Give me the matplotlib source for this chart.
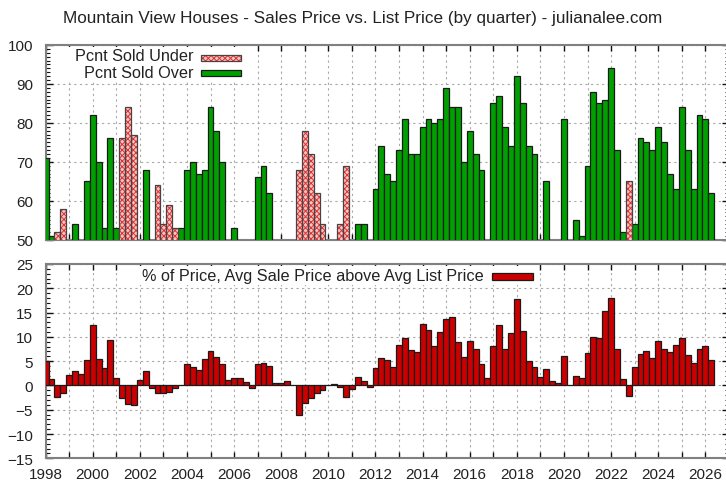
import numpy as np
import matplotlib
matplotlib.use("Agg")
import matplotlib.pyplot as plt
from matplotlib.ticker import MultipleLocator, FuncFormatter
from matplotlib.patches import Rectangle

plt.rcParams['font.family'] = ['Liberation Sans', 'DejaVu Sans']
plt.rcParams['hatch.linewidth'] = 0.7

nan = np.nan
start_year = 1998
# Pcnt sold over list (only values above 50 are visible in the chart)
pct_over = [71, 51, nan, nan, nan, 54, nan, 65,
            82, 70, 53, 76, 53, nan, nan, nan,
            nan, 68, nan, nan, nan, nan, nan, 53,
            68, 70, 67, 68, 84, 78, 70, nan,
            53, nan, nan, nan, 66, 69, 62, nan,
            nan, nan, nan, nan, nan, nan, nan, nan,
            nan, nan, nan, nan, nan, 54, 54, nan,
            63, 74, 67, 65, 73, 81, 72, 72,
            79, 81, 80, 81, 89, 84, 84, 70,
            78, 72, 68, nan, 85, 87, 79, 74,
            92, 85, 74, 72, nan, 65, nan, nan,
            81, nan, 55, 51, 69, 88, 85, 86,
            94, 73, 52, nan, 54, 76, 75, 73,
            79, 75, 67, 63, 84, 73, 63, 82,
            81, 62]
# Pcnt sold under list (only values above 50 are visible in the chart)
pct_under = [nan, nan, 52, 58, nan, nan, nan, nan,
             nan, nan, nan, nan, nan, 76, 84, 77,
             nan, nan, nan, 64, 54, 59, 53, nan,
             nan, nan, nan, nan, nan, nan, nan, nan,
             nan, nan, nan, nan, nan, nan, nan, nan,
             nan, nan, nan, 68, 78, 72, 62, 54,
             nan, nan, 54, 69, nan, nan, nan, nan,
             nan, nan, nan, nan, nan, nan, nan, nan,
             nan, nan, nan, nan, nan, nan, nan, nan,
             nan, nan, nan, nan, nan, nan, nan, nan,
             nan, nan, nan, nan, nan, nan, nan, nan,
             nan, nan, nan, nan, nan, nan, nan, nan,
             nan, nan, nan, 65, nan, nan, nan, nan,
             nan, nan, nan, nan, nan, nan, nan, nan,
             nan, nan]
# % of price, avg sale price above avg list price
pct_above = [5.0, 1.4, -2.3, -1.5, 2.2, 2.9, 2.3, 5.2,
             12.4, 5.4, 3.5, 9.3, 1.6, -2.6, -3.8, -4.0,
             1.2, 3.0, -0.6, -1.5, -1.5, -1.3, -0.5, 0.0,
             4.5, 3.7, 3.1, 5.4, 7.0, 5.8, 4.5, 1.2,
             1.6, 1.6, 0.8, -0.5, 4.4, 4.6, 3.9, 0.6,
             0.6, 1.0, 0.0, -6.0, -3.7, -2.5, -1.5, -0.9,
             0.0, 0.2, -0.3, -2.3, -0.8, 1.7, 1.0, -0.4,
             3.5, 5.6, 5.2, 3.8, 8.3, 9.8, 7.2, 6.8,
             12.6, 11.5, 8.2, 10.9, 13.7, 14.1, 8.9, 5.8,
             9.2, 7.5, 4.4, 1.6, 8.1, 12.5, 7.5, 10.8,
             17.7, 11.2, 5.0, 3.8, 1.7, 3.3, 1.0, 0.4,
             6.0, 0.0, 1.9, 1.5, 6.7, 10.0, 9.8, 15.3,
             18.1, 7.5, 1.3, -2.1, 3.8, 6.4, 7.0, 5.7,
             9.2, 7.5, 6.9, 8.3, 9.8, 6.3, 4.6, 7.6,
             8.1, 5.2]

title = "Mountain View Houses - Sales Price vs. List Price (by quarter) - julianalee.com"
label_under = "Pcnt Sold Under"
label_over = "Pcnt Sold Over"
label_above = "% of Price, Avg Sale Price above Avg List Price"

quarters = start_year + np.arange(len(pct_above)) * 0.25

W, H = 726, 481
fig = plt.figure(figsize=(W / 100, H / 100), dpi=100)

def fx(px):
    return px / W

def fy(py):
    return 1 - py / H

x_left, x_right = 45.6, 728.9
ax1 = fig.add_axes([fx(x_left), fy(240.7), fx(x_right - x_left), (240.7 - 46) / H])
ax2 = fig.add_axes([fx(x_left), fy(459.3), fx(x_right - x_left), (459.3 - 265) / H])

GREEN = '#00a000'
RED = '#cc0000'
EDGE = '#1a1a1a'
TXT = '#222222'
HATCH_RED = '#e03030'
PINK = '#f7c4c4'

bw = 0.25
ax1.bar(quarters, pct_over, width=bw, color=GREEN, edgecolor=EDGE, linewidth=0.9, zorder=3)
ax1.bar(quarters, pct_under, width=bw, color=PINK, edgecolor=HATCH_RED, hatch='xxxxxx',
        linewidth=0, zorder=3)
ax1.bar(quarters, pct_under, width=bw, fill=False, edgecolor='#444444', linewidth=0.9, zorder=4)

ax2.bar(quarters, pct_above, width=bw, color=RED, edgecolor=EDGE, linewidth=0.9, zorder=3)

for ax in (ax1, ax2):
    ax.set_xlim(1998, 2027)
    ax.xaxis.set_major_locator(MultipleLocator(1))
    ax.yaxis.set_minor_locator(MultipleLocator(1))
    ax.grid(True, which='major', color='#a8a8a8', linestyle=(0, (2, 3)), linewidth=0.8, zorder=0)
    ax.set_axisbelow(True)
    for s in ax.spines.values():
        s.set_color('#808080')
        s.set_linewidth(1.5)
    ax.tick_params(axis='x', which='major', direction='in', top=True, bottom=True,
                   length=4, width=1, color='#111111', labelsize=11, labelcolor=TXT, pad=6)
    ax.tick_params(axis='y', which='major', direction='in', left=True, right=True,
                   length=5, width=1, color='#111111', labelsize=11, labelcolor=TXT, pad=9)
    ax.tick_params(axis='y', which='minor', direction='in', left=True, right=True,
                   length=3, width=0.8, color='#111111')

ax1.set_ylim(50, 100)
ax1.yaxis.set_major_locator(MultipleLocator(10))
ax1.tick_params(axis='x', labelbottom=False)

ax2.set_ylim(-15, 25)
ax2.yaxis.set_major_locator(MultipleLocator(5))
ax2.xaxis.set_major_formatter(FuncFormatter(lambda v, p: f"{int(round(v))}" if int(round(v)) % 2 == 0 else ""))

fig.text(0.5, fy(19), title, ha='center', va='center', fontsize=12.3, color=TXT)

# legend backgrounds (opaque, hide grid)
fig.patches.append(Rectangle((fx(66), fy(83)), fx(180), 35 / H, transform=fig.transFigure,
                             facecolor='white', edgecolor='none', zorder=1.5))
fig.patches.append(Rectangle((fx(136), fy(286)), fx(402), 19 / H, transform=fig.transFigure,
                             facecolor='white', edgecolor='none', zorder=1.5))

# legends
fig.text(fx(194), fy(57), label_under, ha='right', va='center', fontsize=11.7, color=TXT, zorder=5)
fig.patches.append(Rectangle((fx(201), fy(62.3)), fx(40), 6.6 / H, transform=fig.transFigure,
                             facecolor=PINK, edgecolor=HATCH_RED, hatch='xxxxxx', linewidth=0, zorder=5))
fig.patches.append(Rectangle((fx(201), fy(62.3)), fx(40), 6.6 / H, transform=fig.transFigure,
                             fill=False, edgecolor='#444444', linewidth=0.9, zorder=5))
fig.text(fx(194), fy(73.5), label_over, ha='right', va='center', fontsize=11.7, color=TXT, zorder=5)
fig.patches.append(Rectangle((fx(201), fy(77.3)), fx(40), 6.6 / H, transform=fig.transFigure,
                             facecolor=GREEN, edgecolor=EDGE, linewidth=0.9, zorder=5))

fig.text(fx(484), fy(276.5), label_above, ha='right', va='center', fontsize=11.7, color=TXT, zorder=5)
fig.patches.append(Rectangle((fx(492), fy(280.7)), fx(41), 6.7 / H, transform=fig.transFigure,
                             facecolor=RED, edgecolor=EDGE, linewidth=0.9, zorder=5))

fig.savefig("out.png", dpi=100)
